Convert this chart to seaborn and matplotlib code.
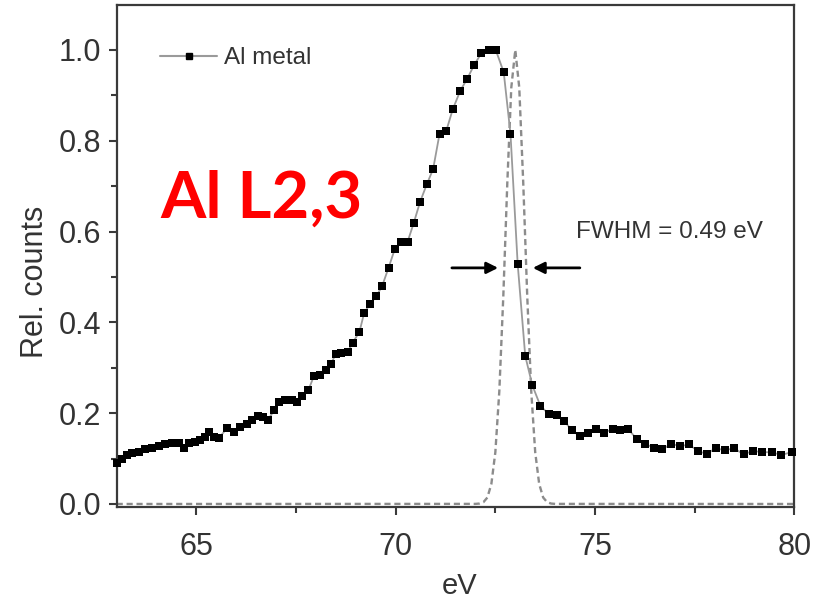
import numpy as np
import pandas as pd
import matplotlib
matplotlib.use("Agg")
import matplotlib.pyplot as plt
import seaborn as sns
from matplotlib.lines import Line2D
from matplotlib.ticker import MultipleLocator, FormatStrFormatter

# ---- data ----
energy_ev = [63.01, 63.13, 63.26, 63.38, 63.55, 63.72, 63.89, 64.05, 64.22, 64.39,
             64.56, 64.68, 64.81, 64.97, 65.10, 65.22, 65.31, 65.43, 65.56, 65.77,
             65.94, 66.10, 66.26, 66.39, 66.55, 66.68, 66.80, 66.95, 67.08, 67.22,
             67.39, 67.52, 67.66, 67.81, 67.95, 68.10, 68.24, 68.38, 68.49, 68.64,
             68.80, 68.92, 69.09, 69.21, 69.36, 69.51, 69.66, 69.82, 69.98, 70.14,
             70.30, 70.45, 70.61, 70.78, 70.94, 71.10, 71.27, 71.43, 71.62, 71.79,
             71.97, 72.15, 72.33, 72.51, 72.71, 72.88, 73.06, 73.25, 73.43, 73.63,
             73.84, 74.04, 74.23, 74.42, 74.62, 74.82, 75.03, 75.23, 75.44, 75.63,
             75.83, 76.05, 76.26, 76.48, 76.69, 76.91, 77.13, 77.35, 77.58, 77.80,
             78.03, 78.26, 78.49, 78.73, 78.96, 79.20, 79.43, 79.67, 79.93]
rel_counts = [0.090, 0.100, 0.108, 0.112, 0.115, 0.120, 0.123, 0.128, 0.131, 0.135,
              0.134, 0.123, 0.134, 0.137, 0.141, 0.148, 0.159, 0.148, 0.145, 0.167,
              0.159, 0.170, 0.176, 0.185, 0.194, 0.191, 0.185, 0.207, 0.225, 0.229,
              0.229, 0.225, 0.238, 0.251, 0.282, 0.284, 0.295, 0.308, 0.330, 0.333,
              0.335, 0.355, 0.379, 0.421, 0.441, 0.457, 0.480, 0.520, 0.562, 0.578,
              0.578, 0.618, 0.665, 0.704, 0.738, 0.815, 0.822, 0.869, 0.910, 0.936,
              0.967, 0.993, 1.000, 1.000, 0.951, 0.815, 0.529, 0.326, 0.261, 0.216,
              0.198, 0.195, 0.182, 0.163, 0.149, 0.156, 0.165, 0.157, 0.165, 0.162,
              0.165, 0.143, 0.132, 0.124, 0.120, 0.133, 0.127, 0.131, 0.117, 0.110,
              0.123, 0.118, 0.123, 0.109, 0.117, 0.114, 0.114, 0.108, 0.114]

# instrument (Gaussian) profile, dashed
gauss_ev = [63.0, 72.0, 72.1, 72.2, 72.3, 72.4, 72.5, 72.6, 72.7, 72.8, 72.9, 73.0,
            73.1, 73.2, 73.3, 73.4, 73.5, 73.6, 73.7, 73.8, 73.9, 74.0, 80.0]
gauss_counts = [0.0, 0.0002, 0.0009, 0.0039, 0.0142, 0.044, 0.114, 0.249, 0.458, 0.707,
                0.917, 1.0, 0.917, 0.707, 0.458, 0.249, 0.114, 0.044, 0.0142, 0.0039,
                0.0009, 0.0002, 0.0]

series_label = "Al metal"
fwhm_text = "FWHM = 0.49 eV"
title_text = "Al L2,3"
x_ticks = [65, 70, 75, 80]

# ---- style ----
sns.set_style("ticks")
plt.rcParams['font.family'] = ['Liberation Sans', 'DejaVu Sans']
text_col = '#333333'

fig = plt.figure(figsize=(8.28, 6.03), dpi=100)
ax = fig.add_axes([0.1409, 0.1597, 0.8184, 0.832])

df = pd.DataFrame({'eV': energy_ev, 'counts': rel_counts})
gdf = pd.DataFrame({'eV': gauss_ev, 'counts': gauss_counts})

sns.lineplot(data=gdf, x='eV', y='counts', ax=ax, color='#8c8c8c', lw=1.7,
             linestyle=(0, (2.6, 1.6)), estimator=None, sort=False, zorder=2)
sns.lineplot(data=df, x='eV', y='counts', ax=ax, color='#9a9a9a', lw=1.3,
             estimator=None, sort=False, zorder=3)
sns.scatterplot(data=df, x='eV', y='counts', ax=ax, marker='s', s=30,
                color='black', edgecolor='black', linewidth=0, zorder=4, clip_on=False)

ax.set_xlim(63, 80)
ax.set_ylim(-0.006, 1.099)
ax.set_xticks(x_ticks)
ax.xaxis.set_minor_locator(MultipleLocator(2.5))
ax.yaxis.set_major_locator(MultipleLocator(0.2))
ax.yaxis.set_minor_locator(MultipleLocator(0.1))
ax.yaxis.set_major_formatter(FormatStrFormatter('%.1f'))
ax.xaxis.set_major_formatter(FormatStrFormatter('%d'))

for sp in ax.spines.values():
    sp.set_visible(True)
    sp.set_linewidth(1.6)
    sp.set_color('#3a3a3a')

ax.tick_params(which='major', direction='out', length=6, width=1.5, color='#3a3a3a',
               labelsize=22, labelcolor=text_col)
ax.tick_params(axis='x', which='major', pad=12)
ax.tick_params(axis='y', which='major', pad=5)
ax.tick_params(which='minor', direction='out', length=4, width=1.5, color='#3a3a3a')

ax.set_xlabel('eV', fontsize=21, color=text_col, va='center')
ax.xaxis.set_label_coords(0.5066, -0.158)
ax.set_ylabel('Rel. counts', fontsize=22, color=text_col, va='center')
ax.yaxis.set_label_coords(-0.1206, 0.448)

handle = Line2D([], [], color='#9a9a9a', lw=1.5, marker='s', markersize=5,
                mfc='black', mec='black')
ax.legend([handle], [series_label], loc='center left', frameon=False,
          bbox_to_anchor=(0.0639, 0.894), borderaxespad=0, borderpad=0,
          handlelength=2.35, handletextpad=0.3, fontsize=17.5, labelcolor=text_col)

ax.text(74.52, 0.599, fwhm_text, fontsize=17.5, color=text_col, ha='left', va='center')

arrow_kw = dict(arrowstyle='-|>', color='black', lw=2.0, mutation_scale=17,
                shrinkA=0, shrinkB=0)
ax.annotate('', xy=(72.57, 0.520), xytext=(71.41, 0.520), arrowprops=arrow_kw)
ax.annotate('', xy=(73.44, 0.520), xytext=(74.62, 0.520), arrowprops=arrow_kw)

fig.text(160 / 828, 1 - 218 / 603, title_text, fontsize=47, fontweight='bold',
         color='#ff0000', family=['Lato', 'DejaVu Sans'], ha='left', va='baseline')

fig.savefig('out.png', dpi=100)
